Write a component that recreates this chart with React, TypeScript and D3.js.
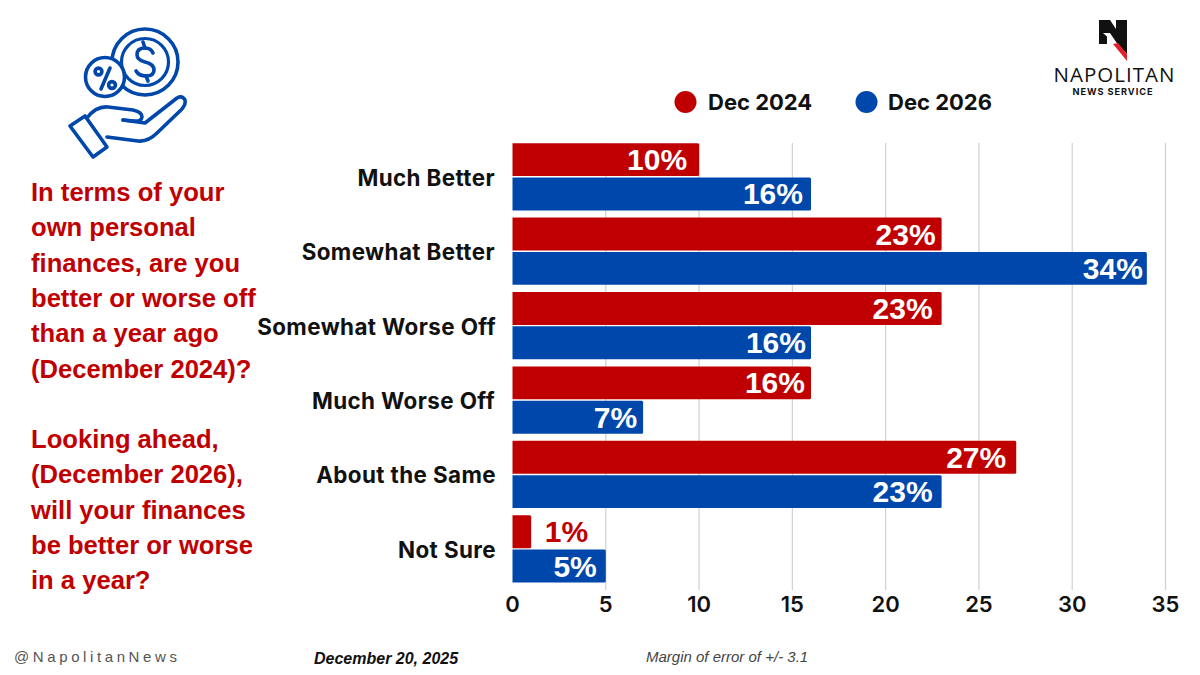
import React from "react";
import * as d3 from "d3";

const categories = ["Much Better", "Somewhat Better", "Somewhat Worse Off", "Much Worse Off", "About the Same", "Not Sure"];
const dec2024 = [10, 23, 23, 16, 27, 1];
const dec2026 = [16, 34, 16, 7, 23, 5];
const xTicks = [0, 5, 10, 15, 20, 25, 30, 35];
const seriesNames = ["Dec 2024", "Dec 2026"];
const questionLines = [
  "In terms of your", "own personal", "finances, are you", "better or worse off", "than a year ago", "(December 2024)?",
  "", "Looking ahead,", "(December 2026),", "will your finances", "be better or worse", "in a year?",
];
const RED = "#c00000";
const BLUE = "#0047ab";
const LABEL_FONT = "Inter, 'Open Sans', sans-serif";
const ARIAL = "'Liberation Sans', Arial, sans-serif";

// layout nudges matching the hand-placed value labels
const inset2024 = [12, 6, 9, 6, 10, -57];
const inset2026 = [8, 4, 5, 6, 9, 9];
const catEnd = [495, 495, 496, 495, 496, 496];

export default function App() {
  const x = d3.scaleLinear().domain([0, 35]).range([512.5, 1165.5]);
  const y = d3.scaleBand().domain(categories).range([139.5, 586]).paddingInner(0).paddingOuter(0);
  const sub = d3.scaleBand().domain(seriesNames).range([3.7, 70.9]).paddingInner(0.04);
  const series = [dec2024, dec2026];
  const colors = [RED, BLUE];
  const insets = [inset2024, inset2026];
  const barPath = (x0: number, x1: number, y0: number, h: number) =>
    `M${x0},${y0}H${x1 - 1.5}Q${x1},${y0} ${x1},${y0 + 1.5}V${y0 + h - 1.5}Q${x1},${y0 + h} ${x1 - 1.5},${y0 + h}H${x0}Z`;
  return (
    <svg width={1200} height={675} viewBox="0 0 1200 675"
      style={{ position: "absolute", left: 0, top: 0, background: "#fff" }}>
      {/* icon */}
      <g fill="none" stroke={BLUE} strokeWidth={3.6} strokeLinecap="round" strokeLinejoin="round">
        <circle cx={145} cy={62} r={33} />
        <circle cx={145} cy={62} r={23.5} strokeWidth={3.2} />
        <circle cx={105} cy={77} r={19.5} fill="#fff" />
        <path d="M110,68L101,89" />
        <circle cx={98.5} cy={71.5} r={3.4} />
        <circle cx={112} cy={85} r={3.4} />
        <path d="M153,53Q151,48 145,48Q137,48 137,54.5Q137,60 145,62Q154,64 154,70Q154,76 146,76Q139,76 136,71" />
        <path d="M143,42L145,48M146,76L148,81" />
        <path d="M70,126L85,116L107,147L93,157Z" />
        <path d="M87,118Q96,106 108,107L133,110Q142,112 142,117Q141,122 134,121L123,120" />
        <path d="M123,120L145,123L177,98Q182,95 185,100Q186,104 182,109L157,133Q148,142 138,141L107,137" />
      </g>
      {/* logo */}
      <path d="M1099,20H1110L1116,29V20H1127V54L1116,42L1109,33H1107V44H1099Z" fill="#111" />
      <path d="M1103,33L1110,33L1116,42L1112,41Z" fill="#fff" />
      <path d="M1113,44L1118,43L1127,54V61Z" fill="#e0202a" />
      <text x={1114.5} y={81.5} textAnchor="middle" fontFamily="'Open Sans', sans-serif" fontSize={20.5} fill="#111" letterSpacing={1}>NAPOLITAN</text>
      <text x={1113} y={94.5} textAnchor="middle" fontFamily={LABEL_FONT} fontWeight={700} fontSize={9.2} fill="#111" letterSpacing={0.95}>NEWS SERVICE</text>
      {/* question */}
      <text fontFamily={ARIAL} fontWeight={700} fontSize={25.6} fill={RED}>
        {questionLines.map((l, i) => l ? <tspan key={i} x={31} y={201 + i * 35.3}>{l}</tspan> : null)}
      </text>
      {/* legend */}
      {seriesNames.map((s, i) => (
        <g key={s}>
          <circle cx={[685.5, 866.5][i]} cy={102} r={11} fill={colors[i]} />
          <text x={[708, 888][i]} y={110} fontFamily={LABEL_FONT} fontWeight={700} fontSize={22} fill="#111">{s}</text>
        </g>
      ))}
      {/* grid */}
      {xTicks.slice(1).map((t) => (
        <line key={t} x1={x(t)} x2={x(t)} y1={143} y2={590} stroke="#d0d0d0" strokeWidth={1.2} />
      ))}
      {xTicks.map((t) => (
        <text key={t} x={x(t)} y={612} textAnchor="middle" fontFamily={LABEL_FONT} fontWeight={600} fontSize={22} fill="#111">{t}</text>
      ))}
      {/* bars */}
      {categories.map((c, ci) => (
        <g key={c} transform={`translate(0,${y(c)})`}>
          <text x={catEnd[ci]} y={y.bandwidth() / 2 + 9} textAnchor="end" fontFamily={LABEL_FONT} fontWeight={700} fontSize={22.4} letterSpacing={0.4} fill="#111">{c}</text>
          {seriesNames.map((s, si) => {
            const v = series[si][ci];
            return (
              <g key={s}>
                <path d={barPath(x(0), x(v), sub(s)!, sub.bandwidth())} fill={colors[si]} />
                <text x={x(v) - insets[si][ci]} y={sub(s)! + sub.bandwidth() / 2 + 10.5} textAnchor="end"
                  fontFamily={ARIAL} fontWeight={700} fontSize={30} fill={v < 3 ? RED : "#fff"}>{v}%</text>
              </g>
            );
          })}
        </g>
      ))}
      {/* footer */}
      <text x={14} y={662} fontFamily={ARIAL} fontSize={15} letterSpacing={3.6} fill="#555">@NapolitanNews</text>
      <text x={314} y={664} fontFamily={ARIAL} fontWeight={700} fontStyle="italic" fontSize={16} fill="#111">December 20, 2025</text>
      <text x={646} y={662} fontFamily={ARIAL} fontStyle="italic" fontSize={15} fill="#444">Margin of error of +/- 3.1</text>
    </svg>
  );
}
